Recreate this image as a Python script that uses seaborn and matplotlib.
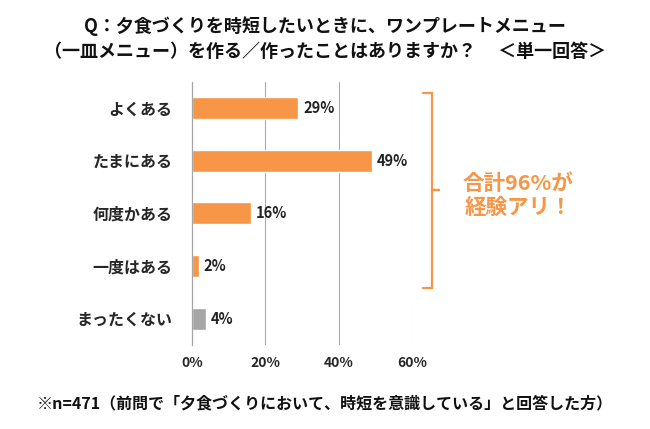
import matplotlib
matplotlib.use("Agg")
import matplotlib.pyplot as plt
import seaborn as sns
import numpy as np

categories = ["よくある", "たまにある", "何度かある", "一度はある", "まったくない"]
values = [29, 49, 16, 2, 4]
bar_colors = ["#F79646", "#F79646", "#F79646", "#F79646", "#A6A6A6"]
xticks = [0, 20, 40, 60]
xtick_labels = ["0%", "20%", "40%", "60%"]

title = "Q：夕食づくりを時短したいときに、ワンプレートメニュー\n（一皿メニュー）を作る／作ったことはありますか？　 ＜単一回答＞"
note = "※n=471（前問で「夕食づくりにおいて、時短を意識している」と回答した方）"
callout = "合計96%が\n経験アリ！"

sns.set_theme(style="white")
plt.rcParams['font.family'] = ['Noto Sans CJK JP', 'DejaVu Sans']
plt.rcParams['font.weight'] = 'bold'

fig = plt.figure(figsize=(6.5, 4.29), dpi=100)
ax = fig.add_axes([0.295, 0.196, 0.339, 0.613])

sns.barplot(x=values, y=categories, hue=categories, palette=bar_colors,
            width=0.42, legend=False, ax=ax, orient="h", saturation=1)

ax.set_xlim(0, 60)
ax.set_ylim(4.5, -0.5)
ax.set_xticks(xticks)
ax.set_xticklabels(xtick_labels, fontsize=10, fontweight='bold')
ax.set_yticks(range(len(categories)))
ax.set_yticklabels(categories, fontsize=11.5, fontweight='bold')
ax.set_yticks(np.arange(-0.5, 5, 1), minor=True)
ax.tick_params(axis='y', which='major', length=0, pad=14)
ax.tick_params(axis='y', which='minor', length=5, color='#A6A6A6', direction='out', width=0.8)
ax.tick_params(axis='x', length=0, pad=8)
ax.set_xlabel("")
ax.set_ylabel("")

ax.grid(axis='x', color='#A6A6A6', linewidth=0.75)
ax.set_axisbelow(True)
for s in ['top', 'right', 'bottom']:
    ax.spines[s].set_visible(False)
ax.spines['left'].set_color('#A6A6A6')
ax.spines['left'].set_linewidth(0.9)

for i, v in enumerate(values):
    ax.text(v + 1.3, i, f"{v}%", va='center', ha='left', fontsize=10.5, fontweight='bold', color='#222222')

# bracket
bx = [63, 65.5, 65.5, 67.6, 65.5, 65.5, 63]
by = [-0.29, -0.29, 1.56, 1.56, 1.56, 3.42, 3.42]
ax.plot(bx, by, color='#F79646', linewidth=1.6, clip_on=False, solid_joinstyle='miter')

fig.text(0.797, 0.545, callout, ha='center', va='center', fontsize=15.5,
         fontweight='bold', color='#F79646', linespacing=1.15)

fig.text(0.5, 0.91, title, ha='center', va='center', fontsize=13,
         fontweight='bold', color='#111111', linespacing=1.45)
fig.text(0.057, 0.06, note, ha='left', va='center', fontsize=11.5,
         fontweight='bold', color='#111111')

fig.savefig("out.png", dpi=100)
